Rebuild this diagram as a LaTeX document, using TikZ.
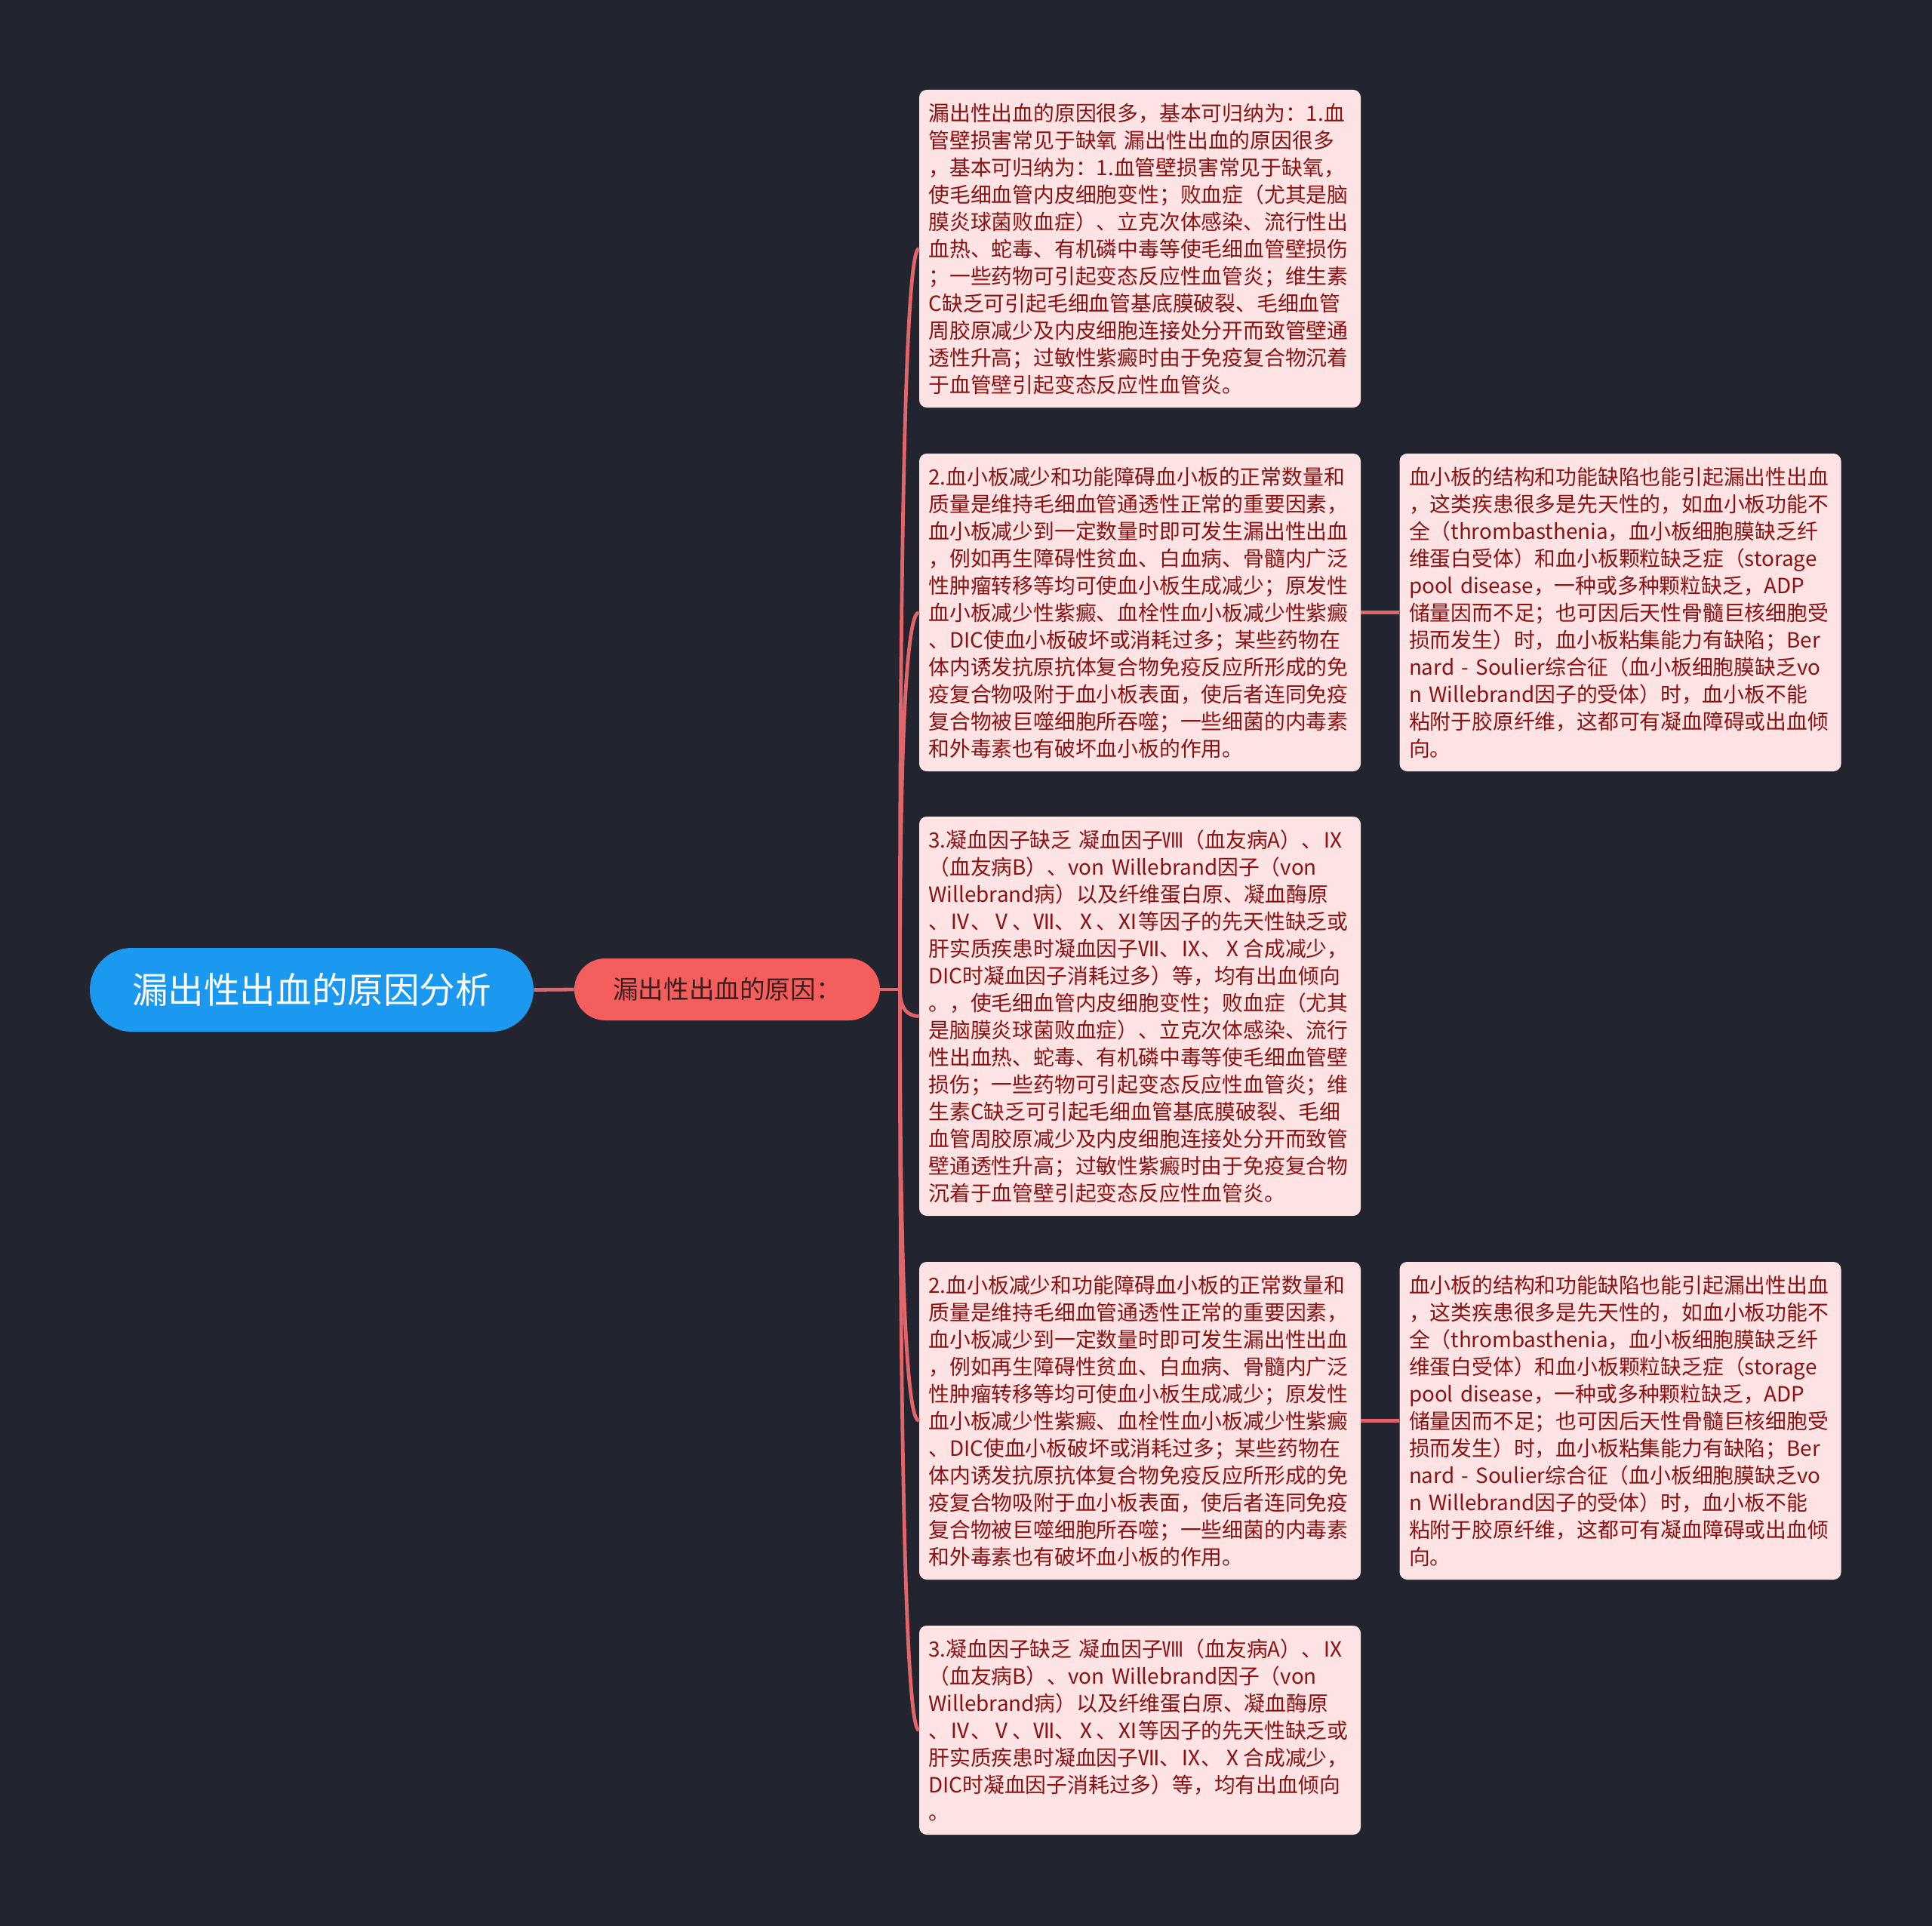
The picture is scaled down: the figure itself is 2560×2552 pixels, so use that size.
\documentclass[tikz,border=0pt]{standalone}
\usepackage{fontspec}
\usetikzlibrary{calc}
\newfontfamily\cjk{Noto Sans CJK SC}
\definecolor{bgdark}{HTML}{22252F}
\definecolor{rootblue}{HTML}{1B98EF}
\definecolor{reasonred}{HTML}{F45F5E}
\definecolor{reasontext}{HTML}{3A1E1E}
\definecolor{leaffill}{HTML}{FDE3E3}
\definecolor{leaftext}{HTML}{8A1212}
\definecolor{linkred}{HTML}{E2656A}

% 叶节点文字
\newcommand\txtwall{漏出性出血的原因很多，基本可归纳为：1.血\\
管壁损害常见于缺氧 漏出性出血的原因很多\\
，基本可归纳为：1.血管壁损害常见于缺氧，\\
使毛细血管内皮细胞变性；败血症（尤其是脑\\
膜炎球菌败血症）、立克次体感染、流行性出\\
血热、蛇毒、有机磷中毒等使毛细血管壁损伤\\
；一些药物可引起变态反应性血管炎；维生素\\
C缺乏可引起毛细血管基底膜破裂、毛细血管\\
周胶原减少及内皮细胞连接处分开而致管壁通\\
透性升高；过敏性紫癜时由于免疫复合物沉着\\
于血管壁引起变态反应性血管炎。}
\newcommand\txtplate{2.血小板减少和功能障碍血小板的正常数量和\\
质量是维持毛细血管通透性正常的重要因素，\\
血小板减少到一定数量时即可发生漏出性出血\\
，例如再生障碍性贫血、白血病、骨髓内广泛\\
性肿瘤转移等均可使血小板生成减少；原发性\\
血小板减少性紫癜、血栓性血小板减少性紫癜\\
、DIC使血小板破坏或消耗过多；某些药物在\\
体内诱发抗原抗体复合物免疫反应所形成的免\\
疫复合物吸附于血小板表面，使后者连同免疫\\
复合物被巨噬细胞所吞噬；一些细菌的内毒素\\
和外毒素也有破坏血小板的作用。}
\newcommand\txtdefect{血小板的结构和功能缺陷也能引起漏出性出血\\
，这类疾患很多是先天性的，如血小板功能不\\
全（thrombasthenia，血小板细胞膜缺乏纤\\
维蛋白受体）和血小板颗粒缺乏症（storage\\
pool disease，一种或多种颗粒缺乏，ADP\\
储量因而不足；也可因后天性骨髓巨核细胞受\\
损而发生）时，血小板粘集能力有缺陷；Ber\\
nard - Soulier综合征（血小板细胞膜缺乏vo\\
n Willebrand因子的受体）时，血小板不能\\
粘附于胶原纤维，这都可有凝血障碍或出血倾\\
向。}
\newcommand\txtfactor{3.凝血因子缺乏 凝血因子Ⅷ（血友病A）、Ⅸ\\
（血友病B）、von Willebrand因子（von\\
Willebrand病）以及纤维蛋白原、凝血酶原\\
、Ⅳ、Ⅴ、Ⅶ、Ⅹ、Ⅺ等因子的先天性缺乏或\\
肝实质疾患时凝血因子Ⅶ、Ⅸ、Ⅹ合成减少，\\
DIC时凝血因子消耗过多）等，均有出血倾向}

\begin{document}
\begin{tikzpicture}[x=0.5pt, y=-0.5pt,
  root/.style={rectangle, rounded corners=27.75pt, fill=rootblue, text=white,
    minimum width=294pt, minimum height=55.5pt, inner sep=0pt,
    font=\cjk\fontsize{23.8}{28}\selectfont},
  reason/.style={rectangle, rounded corners=20.5pt, fill=reasonred, text=reasontext,
    minimum width=202.5pt, minimum height=41pt, inner sep=0pt,
    font=\cjk\fontsize{16.8}{20}\selectfont},
  leaf/.style={rectangle, rounded corners=5pt, fill=leaffill, text=leaftext,
    text width=280pt, inner xsep=6.25pt, inner ysep=0pt, align=left,
    font=\cjk\fontsize{13.9}{18}\selectfont},
  link/.style={draw=linkred, line width=2.4pt}]
  % 背景
  \fill[bgdark] (0,0) rectangle (2560,2552);

  % 主题与分支
  \node[root] (topic) at (413,1311.5) {漏出性出血的原因分析};
  \node[reason] (cause) at (963.5,1311) {漏出性出血的原因：};

  % 第二层
  \node[leaf, minimum height=210.5pt] (wall) at (1510.5,329.5) {\txtwall};
  \node[leaf, minimum height=210.5pt] (plateA) at (1510.5,811.5) {\txtplate};
  \node[leaf, minimum height=264.5pt] (factorA) at (1510.5,1346.5) {\txtfactor\\
。，使毛细血管内皮细胞变性；败血症（尤其\\
是脑膜炎球菌败血症）、立克次体感染、流行\\
性出血热、蛇毒、有机磷中毒等使毛细血管壁\\
损伤；一些药物可引起变态反应性血管炎；维\\
生素C缺乏可引起毛细血管基底膜破裂、毛细\\
血管周胶原减少及内皮细胞连接处分开而致管\\
壁通透性升高；过敏性紫癜时由于免疫复合物\\
沉着于血管壁引起变态反应性血管炎。};
  \node[leaf, minimum height=210.5pt] (plateB) at (1510.5,1882.5) {\txtplate};
  \node[leaf, minimum height=138.5pt] (factorB) at (1510.5,2292.5) {\txtfactor\\。};

  % 第三层
  \node[leaf, minimum height=210.5pt] (defectA) at (2147,811.5) {\txtdefect};
  \node[leaf, minimum height=210.5pt] (defectB) at (2147,1882.5) {\txtdefect};

  % 连线
  \coordinate (fork) at ($(cause.east)+(26,0)$);
  \draw[link] (topic.east) -- (cause.west);
  \draw[link] (cause.east) -- (fork);
  \foreach \n in {wall,plateA,factorA,plateB,factorB}
    \draw[link] (fork) .. controls ($(fork)!0.75!(fork|-\n.west)$) and ($(\n.west)+(-14,0)$) .. (\n.west);
  \draw[link] (plateA.east) -- (defectA.west);
  \draw[link] (plateB.east) -- (defectB.west);
\end{tikzpicture}
\end{document}
